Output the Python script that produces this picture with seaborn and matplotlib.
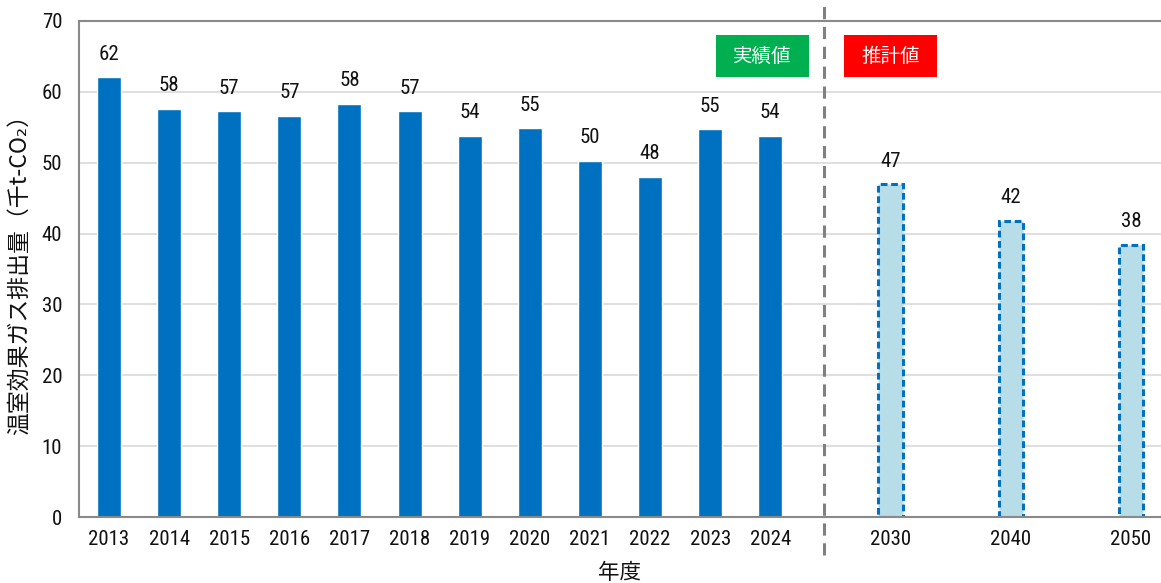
import matplotlib
matplotlib.use("Agg")
import matplotlib.pyplot as plt
from matplotlib.patches import Rectangle
from matplotlib.lines import Line2D
from matplotlib import font_manager
import pandas as pd
import seaborn as sns

# Data
years = ["2013", "2014", "2015", "2016", "2017", "2018", "2019", "2020",
         "2021", "2022", "2023", "2024", "2030", "2040", "2050"]
positions = [0, 1, 2, 3, 4, 5, 6, 7, 8, 9, 10, 11, 13, 15, 17]
emissions = [62.1, 57.6, 57.3, 56.6, 58.3, 57.3, 53.8, 54.9,
             50.3, 48.0, 54.7, 53.8, 47.0, 41.8, 38.4]
n_actual = 12

sns.set_theme(style="white")
installed = {f.name for f in font_manager.fontManager.ttflist}
cjk = "Noto Sans CJK JP"
num_font = cjk
for cand in ["Roboto Condensed", "Liberation Sans Narrow", "Open Sans Condensed"]:
    if cand in installed:
        num_font = cand
        break
plt.rcParams['font.family'] = [num_font, cjk, 'DejaVu Sans']

df = pd.DataFrame({"pos": positions, "year": years, "value": emissions})

fig = plt.figure(figsize=(11.61, 5.83), dpi=100)
ax = fig.add_axes([0.068, 0.1132, 0.932, 0.8508])

sns.barplot(data=df, x="pos", y="value", native_scale=True, width=0.4,
            color="#0070C0", saturation=1, ax=ax)

# forecast bars: light fill with dashed blue edge
for i, p in enumerate(ax.patches):
    if i >= n_actual:
        p.set_facecolor("#B7DDE8")
        p.set_edgecolor("#0070C0")
        p.set_linewidth(2.2)
        p.set_linestyle((0, (2.2, 1.2)))

# value labels
for x, v in zip(positions, emissions):
    ax.text(x, v + 1.9, f"{v:.0f}", ha="center", va="bottom", fontsize=15,
            color="#111111")

ax.set_xlim(-0.5, 17.5)
ax.set_ylim(0, 70)
ax.set_yticks(range(0, 71, 10))
ax.set_xticks(positions, years)
ax.tick_params(axis="both", length=0, labelsize=15, colors="#111111")
ax.tick_params(axis="y", pad=12)
ax.tick_params(axis="x", pad=9)
ax.yaxis.grid(True, color="#D9D9D9", linewidth=1.2)
ax.set_axisbelow(True)

for side in ["left", "top", "bottom"]:
    ax.spines[side].set_color("#898989")
    ax.spines[side].set_linewidth(1.5)
ax.spines["right"].set_visible(False)

ax.set_xlabel("年度", fontsize=15.5, labelpad=10, color="#111111",
              family=[cjk, 'DejaVu Sans'])
ax.set_ylabel("温室効果ガス排出量（千t-CO₂）", fontsize=16.5, labelpad=8,
              color="#111111", family=[cjk, 'DejaVu Sans'])

# legend-like tags
for cx, txt, col in [(10.87, "実績値", "#00B050"), (13.0, "推計値", "#FF0000")]:
    ax.add_patch(Rectangle((cx - 0.78, 62.1), 1.56, 5.9, facecolor=col,
                           edgecolor="none", clip_on=False, zorder=3))
    ax.text(cx, 65.05, txt, ha="center", va="center", color="white",
            fontsize=14, zorder=4, family=[cjk, 'DejaVu Sans'])

# separator between actual and forecast
sep_x = ax.transData.transform((11.9, 0))[0] / fig.bbox.width
fig.add_artist(Line2D([sep_x, sep_x], [0.048, 0.995], transform=fig.transFigure,
                      color="#808080", linewidth=2.2, dashes=(4, 2.5)))

fig.savefig("out.png", dpi=100)
